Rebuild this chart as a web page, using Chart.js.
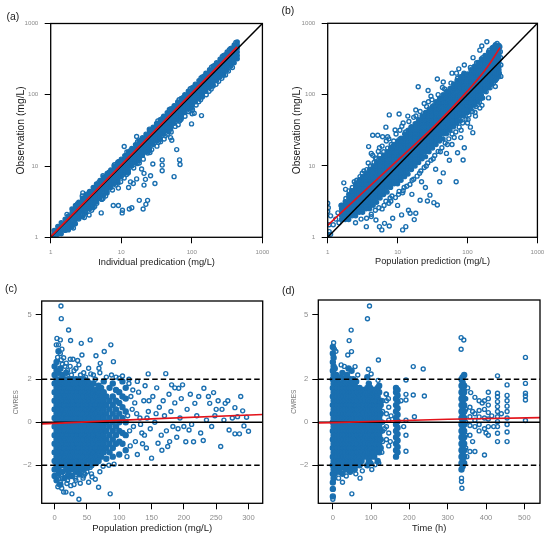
<!DOCTYPE html>
<html>
<head>
<meta charset="utf-8">
<title>Goodness-of-fit plots</title>
<script src="https://cdn.jsdelivr.net/npm/chart.js@4.4.1/dist/chart.umd.min.js"></script>
<style>
html, body { margin: 0; padding: 0; background: #fff; }
#wrap { position: relative; width: 550px; height: 537px; overflow: hidden; font-family: "Liberation Sans", Arial, sans-serif; }
#wrap canvas { position: absolute; }
.tag { position: absolute; font-size: 10.5px; line-height: 10.5px; color: #222; }
</style>
</head>
<body>
<div id="wrap">
  <canvas id="panelA" width="275" height="269" style="left:0;top:0"></canvas>
  <canvas id="panelB" width="275" height="269" style="left:275px;top:0"></canvas>
  <canvas id="panelC" width="275" height="268" style="left:0;top:269px"></canvas>
  <canvas id="panelD" width="275" height="268" style="left:275px;top:269px"></canvas>
  <div class="tag" style="left:6.5px;top:10.5px">(a)</div>
  <div class="tag" style="left:281.5px;top:4.7px">(b)</div>
  <div class="tag" style="left:5px;top:282.7px">(c)</div>
  <div class="tag" style="left:282px;top:284.7px">(d)</div>
</div>
<script>
// tick labels
const logTicks = [1, 10, 100, 1000];
const cPredTicks = [0, 50, 100, 150, 200, 250, 300];
const dTimeTicks = [0, 100, 200, 300, 400, 500];
const resTicks = [-2, 0, 2, 5];
const refLevels = [-2, 0, 2];

// (a) individual prediction vs observation (mg/L)
// dense band: one list of observations per prediction level
const aCoreX = [1.12,1.26,1.41,1.6,1.78,2.0,2.24,2.5,2.82,3.15,3.55,4.0,4.45,5.0,5.6,6.3,7.1,7.9,8.9,10,11.2,12.6,14.1,15.9,17.8,20,22.4,25.1,28.3,31.6,35.5,39.8,44.7,50,56.2,63,70.8,79.4,89,100,112,126,141,158,178,200,224,251,282,316,355,398,440];
const aCoreY = [
  [1.0,1.12,1.25],[1.1,1.26,1.42],[1.12,1.27,1.41,1.6],[1.25,1.4,1.58,1.8],[1.27,1.42,1.6,1.78,2.0],
  [1.4,1.58,1.8,2.0,2.2,2.5],[1.55,1.78,2.0,2.25,2.5,2.8],[1.8,2.0,2.24,2.5,2.82,3.1],[1.95,2.24,2.5,2.8,3.15,3.5],
  [2.2,2.5,2.8,3.15,3.55,4.0],[2.5,2.8,3.2,3.55,4.0,4.4],[2.6,2.85,3.15,3.55,4.0,4.45,5.0],[3.15,3.5,4.0,4.5,5.0,5.6],
  [3.5,4.0,4.45,5.0,5.6,6.3],[3.9,4.45,5.0,5.6,6.3,7.0],[4.2,4.5,5.0,5.6,6.3,7.1,7.9],[5.0,5.6,6.3,7.1,7.9,8.8],
  [5.6,6.3,7.1,7.9,8.9,10],[6.0,6.3,7.1,8.0,8.9,10,11.2],[7.1,7.9,8.9,10,11.2,12.5],[7.9,8.9,10,11.2,12.6,14],
  [8.2,8.9,10,11.2,12.6,14.1,15.8],[10,11.2,12.6,14.1,15.8,17.6],[11.2,12.6,14.1,15.8,17.8,20],[11.8,12.6,14.1,15.8,17.8,20,22.4],
  [14.1,15.8,17.8,20,22.4,25],[15.8,17.8,20,22.4,25.1,28],[16.5,17.8,20,22.4,25.1,28.2,31.6],[20,22.4,25.1,28.2,31.6,35],
  [22.4,25.1,28.2,31.6,35.5,39.5],[23.5,25.1,28.2,31.6,35.5,39.8,44.7],[28.2,31.6,35.5,39.8,44.7,50],[31.6,35.5,39.8,44.7,50.1,56],
  [33,35.5,39.8,44.7,50.1,56.2,63],[39.8,44.7,50.1,56.2,63.1,70.5],[44.7,50.1,56.2,63.1,70.8,79],[47,50.1,56.2,63.1,70.8,79.4,89],
  [56.2,63.1,70.8,79.4,89.1,100],[63.1,70.8,79.4,89.1,100,112],[66,70.8,79.4,89.1,100,112,125],[79.4,89.1,100,112,126,141],
  [89.1,100,112,126,141,158],[93,100,112,126,141,158,178],[112,126,141,158,178,200],[126,141,158,178,200,224],
  [133,141,158,178,200,224,251],[158,178,200,224,251,282],[178,200,224,251,282,316],[188,200,224,251,282,316,355],
  [224,251,282,316,355,398],[251,282,316,355,398,447],[282,316,355,398,447,501],[320,355,398,447,501,550]
];
// points away from the band
const aExtra = [
  [1.7,2.1],[2.4,2.95],[3.4,4.1],[4.8,5.9],[6.7,8.2],[9.5,11.6],[13.4,16.4],[19,23.2],[26.8,32.7],
  [37.8,46.1],[53.4,65],[75.4,92],[106,129],[150,183],[212,259],[300,366],[370,450],[2.85,4.2],[9.1,11.5],
  [2.8,3.8],[5.5,7.3],[8,10.4],[12,15.8],[17,22],[25,33],[33,43],[48,62],[66,85],[95,122],[135,172],
  [190,243],[270,345],[340,430],[420,540],
  [2.1,1.35],[3,1.9],[4.2,2.7],[6,3.8],[8.4,5.4],[11.9,7.6],[16.8,10.8],[23.7,15.2],[33.5,21.4],
  [47.3,30.3],[66.8,42.8],[94.4,60.4],[133,85],[188,120],[266,170],[376,241],[20.5,12.5],[25.5,15.5],
  [32,19],[40.5,24],[51,30],[64,38],[102,62],
  [3.8,2.4],[5.5,3.5],[7.5,4.6],[11,6.8],[15,9.4],[18,11],[27,17],[36,22],[45,28],[58,36],[80,50],
  [115,72],[160,100],[220,140],[300,190],[4.5,3],[9,5.8],[12.5,8],[42,26.5],[70,45],[90,58],[125,80],
  [175,112],[240,155],[330,215],
  [137,51],[101,54],[108,55],[99,39],[50,25],[52,23],[61,17],[67,12.2],[68,10.5],[56,7.1],
  [38,12.2],[38,10.3],[38,8.6],[28,10.7],[26,7.3],[30,5.7],[21,7.9],[19.4,9.1],[22,6.5],[21,5.4],
  [16.5,6.6],[14.8,5.7],[13.5,6.0],[12.7,5.0],[9.8,6.0],[9.1,4.9],[8.6,6.4],[23.6,3.3],[22.3,2.9],
  [20.4,2.5],[18,3.3],[14.1,2.6],[13,2.5],[10.4,2.4],[10.3,2.2],[9.1,2.8],[7.7,2.8],[5.2,2.2],
  [3.5,2.06],[5.3,3.4],[16.5,26],[11,18.8]
];
const aLoess = [[1, 1.02], [438, 470]];

// (b) population prediction vs observation (mg/L)
const bCoreX = [1.58,1.78,2.0,2.24,2.51,2.82,3.16,3.55,3.98,4.47,5.01,5.62,6.31,7.08,7.94,8.91,10,11.2,12.6,14.1,15.8,17.8,20,22.4,25.1,28.2,31.6,35.5,39.8,44.7,50.1,56.2,63.1,70.8,79.4,89.1,100,112,126,141,158,178,200,224,251,282];
const bCoreY = [
  [1.78,2,2.24,2.51,2.82],
  [1.78,2,2.24,2.51,2.82,3.16],
  [1.78,2,2.24,2.51,2.82,3.16,3.55,3.98],
  [2,2.24,2.51,2.82,3.16,3.55,3.98,4.47],
  [2,2.24,2.51,2.82,3.16,3.55,3.98,4.47,5.01,5.62],
  [2.24,2.51,2.82,3.16,3.55,3.98,4.47,5.01,5.62,6.31],
  [2.24,2.51,2.82,3.16,3.55,3.98,4.47,5.01,5.62,6.31,7.08],
  [2.51,2.82,3.16,3.55,3.98,4.47,5.01,5.62,6.31,7.08,7.94],
  [2.51,2.82,3.16,3.55,3.98,4.47,5.01,5.62,6.31,7.08,7.94,8.91],
  [2.82,3.16,3.55,3.98,4.47,5.01,5.62,6.31,7.08,7.94,8.91,10],
  [3.1,3.55,3.98,4.47,5.01,5.62,6.31,7.08,7.94,8.91,10,11.2],
  [3.55,3.98,4.47,5.01,5.62,6.31,7.08,7.94,8.91,10,11.2,12.6],
  [3.98,4.47,5.01,5.62,6.31,7.08,7.94,8.91,10,11.2,12.6,14.1],
  [4.3,5.01,5.62,6.31,7.08,7.94,8.91,10,11.2,12.6,14.1,15.8],
  [5.01,5.62,6.31,7.08,7.94,8.91,10,11.2,12.6,14.1,15.8,17.8],
  [5.62,6.31,7.08,7.94,8.91,10,11.2,12.6,14.1,15.8,17.8,20],
  [5.62,6.31,7.08,7.94,8.91,10,11.2,12.6,14.1,15.8,17.8,20,22.4],
  [6.31,7.08,7.94,8.91,10,11.2,12.6,14.1,15.8,17.8,20,22.4,24.5],
  [7.08,7.94,8.91,10,11.2,12.6,14.1,15.8,17.8,20,22.4,25.1,28.2],
  [7.7,8.91,10,11.2,12.6,14.1,15.8,17.8,20,22.4,25.1,28.2,31.6],
  [8.91,10,11.2,12.6,14.1,15.8,17.8,20,22.4,25.1,28.2,31.6,35.5],
  [10,11.2,12.6,14.1,15.8,17.8,20,22.4,25.1,28.2,31.6,35.5,39],
  [11.2,12.6,14.1,15.8,17.8,20,22.4,25.1,28.2,31.6,35.5,39.8,44.7],
  [12.6,14.1,15.8,17.8,20,22.4,25.1,28.2,31.6,35.5,39.8,44.7,50.1],
  [13.5,15.8,17.8,20,22.4,25.1,28.2,31.6,35.5,39.8,44.7,50.1,56.2],
  [15.8,17.8,20,22.4,25.1,28.2,31.6,35.5,39.8,44.7,50.1,56.2,63.1],
  [17.8,20,22.4,25.1,28.2,31.6,35.5,39.8,44.7,50.1,56.2,63.1,69],
  [20,22.4,25.1,28.2,31.6,35.5,39.8,44.7,50.1,56.2,63.1,70.8,79.4],
  [22.4,25.1,28.2,31.6,35.5,39.8,44.7,50.1,56.2,63.1,70.8,79.4,89.1],
  [24,28.2,31.6,35.5,39.8,44.7,50.1,56.2,63.1,70.8,79.4,89.1,100],
  [28.2,31.6,35.5,39.8,44.7,50.1,56.2,63.1,70.8,79.4,89.1,100,112],
  [31.6,35.5,39.8,44.7,50.1,56.2,63.1,70.8,79.4,89.1,100,112,122],
  [35.5,39.8,44.7,50.1,56.2,63.1,70.8,79.4,89.1,100,112,126,141],
  [39.8,44.7,50.1,56.2,63.1,70.8,79.4,89.1,100,112,126,141,158],
  [43,50.1,56.2,63.1,70.8,79.4,89.1,100,112,126,141,158,178],
  [50.1,56.2,63.1,70.8,79.4,89.1,100,112,126,141,158,178,200],
  [56.2,63.1,70.8,79.4,89.1,100,112,126,141,158,178,195],
  [63.1,70.8,79.4,89.1,100,112,126,141,158,178,200,224],
  [70.8,79.4,89.1,100,112,126,141,158,178,200,224,251],
  [79.4,89.1,100,112,126,141,158,178,200,224,251,282],
  [89.1,100,112,126,141,158,178,200,224,251,282,316],
  [112,126,141,158,178,200,224,251,282,316,355],
  [126,141,158,178,200,224,251,282,316,355,398],
  [141,158,178,200,224,251,282,316,355,398,447],
  [158,178,200,224,251,282,316,355,398,447,501],
  [178,200,224,251,282,316,355,398,447,490]
];
const bExtra = [
  [1.45,1.6],[1.4,2.2],[1.55,2.8],[1.82,3.5],[2.02,4.47],[2.25,5.0],[2.6,6.3],[2.9,7.1],[3.12,7.9],[3.62,8.9],
  [4.1,10],[4.6,11.2],[4.98,12.6],[5.55,14.1],[6.33,15.8],[7.2,17.8],[8.1,20],[8.8,22.4],
  [6.4,2.8],[7.8,3.55],[10.3,4.0],[12.4,5.0],[16.1,6.3],[20.6,7.9],[25.7,10],[32.3,12.6],[40.8,15.8],
  [51.5,20],[64.5,25.1],[81,31.6],[102,44.7],[128,56.2],[161,70.8],
  [4.4,14.1],[6.9,22.4],[10.8,31.6],[18.3,50.1],[27.6,79.4],[43.8,126],[69.5,200],
  [2.4,6.0],[3.3,8.5],[3.8,11],[4.8,13],[5.3,16],[6,19],[6.6,14],[7.5,24],[8.3,18],[9.5,28],[10.8,24],
  [11.5,36],[13,30],[14.5,42],[15.5,35],[17,48],[19,40],[21,58],[23,50],[26,68],[29,60],[31,85],[34,72],
  [38,100],[42,88],[47,120],[52,105],[58,145],[64,125],[72,170],[80,150],[88,190],[98,175],[110,240],
  [125,215],[135,280],[150,260],[165,330],[185,310],[205,420],[220,380],[240,470],[265,520],
  [2.5,1.6],[3,1.8],[3.6,1.85],[4.2,2.1],[4.8,2.4],[5.4,2.6],[6,2.5],[6.8,3.2],[7.5,3.0],[8.3,3.8],
  [9.3,3.6],[10.5,4.4],[11.8,4.2],[13.5,5.2],[15,5.5],[17,6.5],[19,7.2],[21.5,8.5],[24,9.5],[27,11],
  [30,12],[34,14],[38,16],[43,18],[48,21],[54,24],[60,28],[68,30],[76,35],[85,40],[95,45],[105,52],
  [118,58],[132,68],[148,78],[165,90],[185,110],[210,125],[235,145],[260,165],[285,200],
  [4.4,27],[5.2,27],[6.1,25.7],[7.2,25.7],[3.85,18.7],[4.2,15],[7.6,52],[10.5,53.6],[18.2,61],[19.7,129],
  [27.3,114],[37,166],[3.0,6.5],[2.2,4.5],[1.7,5.8],[1.8,4.7],[6.8,35],[9.2,32],[12,40],[14,50],[24,75],
  [30,95],[45,150],[60,200],[75,230],[90,260],[120,330],[150,420],[189,552],[160,480],[230,457],[2.6,5.5],[5.5,18],[8.5,19],
  [68.8,6.0],[86.5,12.1],[72,15.3],[119,29.3],[37,2.84],[26.7,3.23],[21,3.3],[18.2,2.17],[14.3,2.4],[11.4,2.06],
  [8.5,1.85],[6.5,1.57],[5.95,1.27],[5.5,1.41],[7.6,1.44],[4.9,1.75],[4.2,1.95],[3.57,1.41],[11.8,1.27],[13.1,1.41],
  [17.3,1.77],[15.1,2.17],[33,3.06],[29,3.9],[45,8],[55,12],[40,6],[25,5],[60,20],[80,25],[100,40],[130,50],
  [150,65],[200,90],[250,130],[300,180],[90,18],[110,35],[16,4],[22,6],[10,2.8],[8,3.2],[12,4.5],[35,9],[50,15],
  [300,260],[298,330],[295,400],[290,470],
  [1.0,3.0],[1.02,2.6],[1.0,2.3],[1.05,1.5],[1.1,1.1],[1.0,1.1],[1.05,1.2],[1.2,1.5],[1.3,1.8],[1.1,2.0]
];
const bLoess = [[1, 1.47], [2.7, 3.67], [10, 12], [33, 35.6], [100, 112], [188, 236], [292, 456]];

// (c) population prediction vs CWRES
const cPredCols = [0,3,6,9,12,15,18,21,24,27,30,33,36,39,42,45,48,51,54,57,60,64,68,72,76,80,85,90,95,100,105,110];
const cResCols = [
  [-2.5,-2.2,-1.8,-1.4,-1,-0.6,-0.2,0.2,0.6,1,1.4,1.8,2.2,2.6],
  [-2.7,-2,-1.6,-1.2,-0.8,-0.4,0,0.4,0.8,1.2,1.6,2,2.4,2.8],
  [-2.4,-2.2,-1.8,-1.4,-1,-0.6,-0.2,0.2,0.6,1,1.4,1.8,2.3,3.3],
  [-2.9,-2,-1.6,-1.2,-0.8,-0.4,0,0.4,0.8,1.2,1.6,2,2.5],
  [-2.3,-1.8,-1.4,-1,-0.6,-0.2,0.2,0.6,1,1.4,1.8,2.2],
  [-2.6,-2,-1.6,-1.2,-0.8,-0.4,0,0.4,0.8,1.2,1.6,2],
  [-2.2,-1.8,-1.4,-1,-0.6,-0.2,0.2,0.6,1,1.4,1.8,2.3],
  [-2.45,-2,-1.6,-1.2,-0.8,-0.4,0,0.4,0.8,1.2,1.6,2],
  [-2.2,-1.8,-1.4,-1,-0.6,-0.2,0.2,0.6,1,1.4,1.8],
  [-2.5,-2,-1.6,-1.2,-0.8,-0.4,0,0.4,0.8,1.2,1.6,2],
  [-2.2,-1.8,-1.4,-1,-0.6,-0.2,0.2,0.6,1,1.4,1.8],
  [-2.3,-2,-1.6,-1.2,-0.8,-0.4,0,0.4,0.8,1.2,1.6,2],
  [-2.2,-1.8,-1.4,-1,-0.6,-0.2,0.2,0.6,1,1.4,1.8],
  [-2.4,-2,-1.6,-1.2,-0.8,-0.4,0,0.4,0.8,1.2,1.6,2],
  [-1.8,-1.4,-1,-0.6,-0.2,0.2,0.6,1,1.4,1.8],
  [-2.2,-2,-1.6,-1.2,-0.8,-0.4,0,0.4,0.8,1.2,1.6,2],
  [-1.8,-1.4,-1,-0.6,-0.2,0.2,0.6,1,1.4,1.8],
  [-2.1,-1.6,-1.2,-0.8,-0.4,0,0.4,0.8,1.2,1.6,1.9],
  [-1.8,-1.4,-1,-0.6,-0.2,0.2,0.6,1,1.4,1.8],
  [-2,-1.6,-1.2,-0.8,-0.4,0,0.4,0.8,1.2,1.6],
  [-1.8,-1.4,-1,-0.6,-0.2,0.2,0.6,1,1.4,1.8],
  [-1.9,-1.6,-1.2,-0.8,-0.4,0,0.4,0.8,1.2,1.5],
  [-1.8,-1.4,-1,-0.6,-0.2,0.2,0.6,1,1.4,1.7],
  [-1.6,-1.2,-0.8,-0.4,0,0.4,0.8,1.2,1.6],
  [-1.4,-1,-0.6,-0.2,0.2,0.6,1,1.4,1.9],
  [-1.7,-1.2,-0.8,-0.4,0,0.4,0.8,1.2],
  [-1.4,-1,-0.6,-0.2,0.2,0.6,1,1.6],
  [-1.6,-1.2,-0.8,-0.4,0,0.4,0.8,1.2,1.8],
  [-1,-0.6,-0.2,0.2,0.6,1,1.5],
  [-1.5,-0.9,-0.4,0,0.4,0.9,1.4],
  [-1,-0.5,0.2,0.7,1.2,1.9],
  [-1.3,-0.6,0,0.5,1.1,1.6]
];
const cExtra = [
  [9.8,5.41],[10.3,4.82],[21.6,4.29],[3.6,3.9],[8.8,3.83],[2.6,3.6],[11.3,3.4],[8.8,3.2],[4.6,3.02],[10.3,2.9],
  [24.7,3.8],[41.2,3.67],[42.3,3.13],[55,3.83],[64,3.09],[76.8,3.29],[87,3.6],[91,2.82],[68.6,2.51],[24.2,2.93],
  [28.4,2.93],[35.6,2.87],[37.6,2.67],[52.6,2.51],[70.6,2.74],[144.8,2.25],[172,2.26],[16,2.6],[30,2.4],[45,2.3],
  [60,2.2],[80,2.1],[100,2.05],[115,2.0],[128,1.9],[6,3.6],[14,3.0],[18,2.75],
  [20,2.4],[26,2.2],[33,2.5],[40,2.2],[48,2.1],[56,2.25],[63,2.0],[70,2.3],[88,2.2],[95,2.1],[105,2.15],[12,2.7],[24,2.6],
  [86,-3.33],[37.6,-3.58],[68,-3.02],[14,-3.25],[17.5,-3.25],[26.8,-3.33],[11,-3.07],[25,-2.95],[39.7,-2.84],[52.6,-2.79],
  [62.9,-2.65],[8.8,-2.79],[20,-2.7],[32,-2.6],[45,-2.5],[57,-2.4],[70,-2.3],[75,-2.05],[84,-2.0],[92,-1.95],[5,-3.0],[30,-2.9],
  [5,-2.5],[12,-2.6],[16,-2.4],[22,-2.55],[28,-2.35],[33,-2.7],[38,-2.45],[44,-2.6],[50,-2.3],[58,-2.55],[7,-2.9],[19,-2.85],
  [41,-2.2],[47,-2.4],[55,-2.1],
  [198,1.74],[192,1.58],[181,1.74],[231,1.58],[246,1.38],[217,0.88],[240,0.88],[250,0.6],[264,0.88],[259,0.6],
  [279,0.68],[291,0.53],[297,0.23],[283,0.26],[293,-0.17],[270,-0.36],[279,-0.54],[286,-0.54],[300,-0.42],[257,-1.13],
  [230,-0.85],[215,-0.91],[203,-0.91],[208,-0.36],[150,-1.67],[175,-1.13],[160,-0.98],
  [115,1.8],[118,1.2],[120,0.6],[122,-0.2],[125,-0.9],[128,-1.5],[130,1.4],[132,0.2],[135,-0.5],[138,1.0],
  [140,1.7],[142,-1.2],[145,0.5],[148,-0.3],[152,1.2],[155,0.0],[158,1.6],[162,0.7],[165,-0.6],[168,1.0],
  [170,0.3],[173,-0.4],[177,1.3],[180,0.5],[183,-0.2],[186,0.9],[189,-0.7],[194,0.2],[196,1.1],[200,-0.2],
  [205,0.6],[210,1.3],[212,-0.1],[220,0.3],[223,1.2],[226,-0.5],[235,0.1],[238,1.2],[243,-0.2],[248,0.3],
  [253,1.0],[262,0.1],[268,1.0],[275,0.2],[288,1.2],[112,-1.6],[117,-1.1],[124,0.9],[136,-1.0],[146,1.0],
  [166,-1.3],[178,-0.9],[186,1.6],[191,-0.3],[157,0.4],[143,0.2],[127,0.4],[133,-0.1],[139,-0.6],[121,1.5],
  [113,0.3],[116,-0.4]
];
const cLoess = [[-20, -0.08], [0, -0.05], [150, 0.16], [322, 0.36]];

// (d) time (h) vs CWRES: heavily sampled times
const dCoreTimes = [0,2,5,9,13,17,21,25,29,33,37,41,45,49,53,57,61,65,70,75,80,85,90,94,98,103,108,113,117,121,125,165,169,336,339,343];
const dCoreRes = [
  [-3.45,-3.1,-2.8,-2.4,-2,-1.6,-1.2,-0.8,-0.4,0,0.4,0.8,1.2,1.6,2,2.4,2.8,3.2,3.5],
  [-2.6,-2.2,-1.8,-1.4,-1,-0.6,-0.2,0.2,0.6,1,1.4,1.8,2.2,2.6,3],
  [-2.4,-2,-1.6,-1.2,-0.8,-0.4,0,0.4,0.8,1.2,1.6,2,2.5],
  [-2.2,-1.8,-1.4,-1,-0.6,-0.2,0.2,0.6,1,1.4,1.8,2.2],
  [-2,-1.6,-1.2,-0.8,-0.4,0,0.4,0.8,1.2,1.6,2],
  [-2.3,-1.8,-1.4,-1,-0.6,-0.2,0.2,0.6,1,1.4,1.8],
  [-2.1,-1.6,-1.2,-0.8,-0.4,0,0.4,0.8,1.2,1.6,2.1],
  [-2.4,-1.8,-1.4,-1,-0.6,-0.2,0.2,0.6,1,1.4,1.8,2.3],
  [-2,-1.6,-1.2,-0.8,-0.4,0,0.4,0.8,1.2,1.6,2],
  [-2.2,-1.8,-1.4,-1,-0.6,-0.2,0.2,0.6,1,1.4,1.8],
  [-2,-1.6,-1.2,-0.8,-0.4,0,0.4,0.8,1.2,1.6,2.2],
  [-2.2,-1.8,-1.4,-1,-0.6,-0.2,0.2,0.6,1,1.4,1.8,2.5],
  [-2.3,-2,-1.6,-1.2,-0.8,-0.4,0,0.4,0.8,1.2,1.6,2],
  [-2.2,-1.8,-1.4,-1,-0.6,-0.2,0.2,0.6,1,1.4,1.8,2.4],
  [-2,-1.6,-1.2,-0.8,-0.4,0,0.4,0.8,1.2,1.6,2],
  [-2.2,-1.8,-1.4,-1,-0.6,-0.2,0.2,0.6,1,1.4,1.8],
  [-2,-1.6,-1.2,-0.8,-0.4,0,0.4,0.8,1.2,1.6,1.9],
  [-1.8,-1.4,-1,-0.6,-0.2,0.2,0.6,1,1.4],
  [-2,-1.6,-1.2,-0.8,-0.4,0,0.4,0.8,1.2,1.6],
  [-1.8,-1.4,-1,-0.6,-0.2,0.2,0.6,1,1.4],
  [-1.6,-1.2,-0.8,-0.4,0,0.4,0.8,1.2,1.5],
  [-1.4,-1,-0.6,-0.2,0.2,0.6,1,1.4],
  [-2,-1.6,-1.2,-0.8,-0.4,0,0.4,0.8,1.2,1.6,2.1],
  [-1.8,-1.4,-1,-0.6,-0.2,0.2,0.6,1,1.4,1.8],
  [-1.9,-1.6,-1.2,-0.8,-0.4,0,0.4,0.8,1.2,1.6],
  [-1.4,-1,-0.6,-0.2,0.2,0.6,1,1.4],
  [-1.6,-1.2,-0.8,-0.4,0,0.4,0.8,1.2,1.5],
  [-1.4,-1,-0.6,-0.2,0.2,0.6,1,1.4],
  [-1.8,-1.2,-0.8,-0.4,0,0.4,0.8,1.2,1.6],
  [-1.4,-1,-0.6,-0.2,0.2,0.6,1,1.4,1.7],
  [-1.2,-0.8,-0.4,0,0.4,0.8,1],
  [-1.6,-1.3,-1,-0.7,-0.4,-0.1,0.2,0.5,0.8,1.1,1.4,1.6],
  [-1.4,-1.15,-0.85,-0.55,-0.25,0.05,0.35,0.65,0.95,1.25,1.5],
  [-2.2,-1.9,-1.6,-1.3,-1,-0.7,-0.4,-0.1,0.2,0.5,0.8,1.1,1.4,1.7,2],
  [-2.05,-1.75,-1.45,-1.15,-0.85,-0.55,-0.25,0.05,0.35,0.65,0.95,1.25,1.55,1.85,2.1],
  [-1.9,-1.6,-1.3,-1,-0.7,-0.4,-0.1,0.2,0.5,0.8,1.1,1.4,1.7,2.2]
];
// lightly sampled times
const dSparseTimes = [130,140,146,191,347,358,371,382,396,406,430,455,503];
const dSparseRes = [
  [-0.9,-0.4,0,0.5,1],
  [-0.8,-0.2,0.4,1,1.3],
  [-1.1,-0.5,0.1,0.7],
  [-1.35,-0.6,0.1,1.04,1.3,1.97],
  [-1.2,-0.6,0,0.6,1.1],
  [-1.36,-0.6,-0.15,0.26,0.7],
  [-1.36,-0.2,0.1,0.4,1.16],
  [-0.4,-0.1,0.25,0.55,1],
  [-1.52,-0.3,0.2,0.6,1],
  [-0.6,-0.2,0.15,0.45,0.8,1.1,1.4],
  [-0.9,-0.51,-0.2,0.03,0.26,0.5,0.73,0.96,1.19,1.35,2.16],
  [-0.9,-0.45,-0.1,0.2,0.5,0.75,1,1.25,1.74],
  [0.08,1.04,1.22,1.35,1.81,3.02]
];
const dExtra = [
  [95.7,5.41],[90.4,4.82],[47.8,4.29],[42.6,3.8],[119,2.9],[48.7,3.29],[39,3.13],[21.7,2.67],[58,2.59],[210,2.59],
  [236,2.48],[93,2.47],[335,3.94],[342,3.83],[335,3.4],[210,1.27],[213,0.26],[239,1.22],[139,1.32],[336,-2.6],
  [336,-2.76],[337,-3.07],[0,-3.58],[49.6,-3.33],[25.2,-2.79],[71,-2.6],[77,-2.26],[101.7,-2.2],[110,-1.98],[15,-2.6],
  [35,-2.5],[60,-2.4],[8,3.3],[30,2.6],[65,2.2],[100,2.25],[118,1.95],[2,3.7],[4,3.4],[120,-1.9],
  [128,-1.4],[135,-0.3],[150,-0.9],[152,0.3],[145,1.1],[185,-0.2],[178,1.0],[360,1.38],[365,-0.9],[390,0.9],
  [400,-0.5],[415,0.3],[420,-0.2],[440,0.4],[365,0.5],[350,-1.6],[352,1.6]
];
const dLoess = [[-38, -0.03], [0, -0.02], [300, 0.14], [541, 0.22]];

const FONT = '"Liberation Sans", Arial, sans-serif';
const BLUE = '#1a6fb0';
const RED = '#e3141b';

function pairsToXY(pairs) {
  return pairs.map(p => ({ x: p[0], y: p[1] }));
}

function colsToXY(xs, cols) {
  const out = [];
  xs.forEach((x, i) => cols[i].forEach(y => out.push({ x: x, y: y })));
  return out;
}

// closes the box on all four sides, drawn over the points
const framePlugin = {
  id: 'frame',
  afterDatasetsDraw(chart) {
    const a = chart.chartArea;
    const ctx = chart.ctx;
    ctx.save();
    ctx.strokeStyle = '#000';
    ctx.lineWidth = 1.3;
    ctx.strokeRect(a.left, a.top, a.right - a.left, a.bottom - a.top);
    ctx.restore();
  }
};

function lineSet(pts, color, width, dash, smooth) {
  return {
    data: pairsToXY(pts),
    showLine: true,
    borderColor: color,
    borderWidth: width,
    borderDash: dash || [],
    pointRadius: 0,
    pointHoverRadius: 0,
    fill: false,
    cubicInterpolationMode: smooth ? 'monotone' : 'default',
    tension: 0
  };
}

// open circles; where the circles pile up in the original they merge into solid blue
function pointSet(pts, solid, radius) {
  return {
    data: pts,
    showLine: false,
    pointRadius: radius || 2,
    pointBorderWidth: 1.4,
    pointBorderColor: BLUE,
    pointBackgroundColor: solid ? BLUE : 'rgba(0,0,0,0)',
    borderColor: BLUE,
    backgroundColor: 'rgba(0,0,0,0)'
  };
}

function makeAxis(o) {
  const isLeft = o.pos === 'left';
  return {
    type: o.type,
    position: o.pos,
    min: o.min,
    max: o.max,
    border: { display: false },
    grid: { display: true, drawOnChartArea: false, drawTicks: true, tickLength: 6, color: '#000', lineWidth: 1 },
    ticks: {
      color: '#8c8c8c',
      font: { size: o.tickSize, family: FONT },
      padding: o.tickPad,
      autoSkip: false,
      maxRotation: 0,
      minRotation: 0,
      callback: v => (v < 0 ? '\u2212' + Math.abs(v) : String(v))
    },
    afterBuildTicks: s => { s.ticks = o.ticks.map(v => ({ value: v })); },
    afterFit: s => { if (isLeft) s.width = o.size; else s.height = o.size; },
    title: {
      display: true,
      text: o.title,
      color: o.titleColor || '#1a1a1a',
      font: { size: o.titleSize, family: FONT },
      padding: isLeft ? { top: o.titlePad, bottom: 0 } : { top: 0, bottom: o.titlePad }
    }
  };
}

function makePanel(id, datasets, pad, xAxis, yAxis) {
  const canvas = document.getElementById(id);
  if (!canvas) {
    console.error('Canvas not found: ' + id);
    return;
  }
  new Chart(canvas.getContext('2d'), {
    type: 'scatter',
    data: { datasets: datasets },
    options: {
      responsive: false,
      animation: false,
      events: [],
      layout: { autoPadding: false, padding: { top: pad.top, right: pad.right, bottom: 0, left: 0 } },
      plugins: { legend: { display: false }, tooltip: { enabled: false } },
      scales: { x: xAxis, y: yAxis }
    },
    plugins: [framePlugin]
  });
}

function refLines(xMin, xMax) {
  return refLevels.map(r => lineSet([[xMin, r], [xMax, r]], '#000', 1.4, r === 0 ? [] : [5.5, 3]));
}

document.addEventListener('DOMContentLoaded', function() {
  try {
    makePanel('panelA', [
      lineSet(aLoess, RED, 1.7),
      lineSet([[1, 1], [1000, 1000]], '#000', 1.5),
      pointSet(pairsToXY(aExtra), false),
      pointSet(colsToXY(aCoreX, aCoreY), true)
    ], { top: 23.5, right: 12.3 },
      makeAxis({ type: 'logarithmic', pos: 'bottom', min: 1, max: 1000, ticks: logTicks, size: 31.7, tickSize: 6.2, tickPad: 5.7,
        title: 'Individual predication (mg/L)', titleSize: 9.3, titlePad: 0.8 }),
      makeAxis({ type: 'logarithmic', pos: 'left', min: 1, max: 1000, ticks: logTicks, size: 50.7, tickSize: 6.2, tickPad: 6.4,
        title: 'Observation (mg/L)', titleSize: 10.3, titlePad: 14.5 }));

    makePanel('panelB', [
      lineSet(bLoess, RED, 1.7, null, true),
      lineSet([[1, 1], [1000, 1000]], '#000', 1.5),
      pointSet(pairsToXY(bExtra), false),
      pointSet(colsToXY(bCoreX, bCoreY), true)
    ], { top: 23.3, right: 10.7 },
      makeAxis({ type: 'logarithmic', pos: 'bottom', min: 1, max: 1000, ticks: logTicks, size: 31.7, tickSize: 6.2, tickPad: 5.7,
        title: 'Population prediction (mg/L)', titleSize: 9.2, titlePad: 1.8 }),
      makeAxis({ type: 'logarithmic', pos: 'left', min: 1, max: 1000, ticks: logTicks, size: 52.7, tickSize: 6.2, tickPad: 6.4,
        title: 'Observation (mg/L)', titleSize: 10.3, titlePad: 15.5 }));

    makePanel('panelC', [lineSet(cLoess, RED, 1.7)].concat(refLines(-20, 322), [
      pointSet(pairsToXY(cExtra), false),
      pointSet(colsToXY(cPredCols, cResCols), true, 2.5)
    ]), { top: 32, right: 12.3 },
      makeAxis({ type: 'linear', pos: 'bottom', min: -20, max: 322, ticks: cPredTicks, size: 33.7, tickSize: 7.6, tickPad: 4.4,
        title: 'Population prediction (mg/L)', titleSize: 9.6, titlePad: 3.1 }),
      makeAxis({ type: 'linear', pos: 'left', min: -3.77, max: 5.64, ticks: resTicks, size: 41.7, tickSize: 7.6, tickPad: 4,
        title: 'CWRES', titleSize: 6.5, titleColor: '#777', titlePad: 12.8 }));

    makePanel('panelD', [lineSet(dLoess, RED, 1.7)].concat(refLines(-38, 541), [
      pointSet(pairsToXY(dExtra).concat(colsToXY(dSparseTimes, dSparseRes)), false),
      pointSet(colsToXY(dCoreTimes, dCoreRes), true, 2.5)
    ]), { top: 31, right: 10 },
      makeAxis({ type: 'linear', pos: 'bottom', min: -38, max: 541, ticks: dTimeTicks, size: 33.7, tickSize: 7.6, tickPad: 4.4,
        title: 'Time (h)', titleSize: 9.3, titlePad: 3.1 }),
      makeAxis({ type: 'linear', pos: 'left', min: -3.77, max: 5.69, ticks: resTicks, size: 43.3, tickSize: 7.6, tickPad: 4,
        title: 'CWRES', titleSize: 6.5, titleColor: '#777', titlePad: 15.1 }));
  } catch (error) {
    console.error('Error creating charts:', error);
  }
});
</script>
</body>
</html>
